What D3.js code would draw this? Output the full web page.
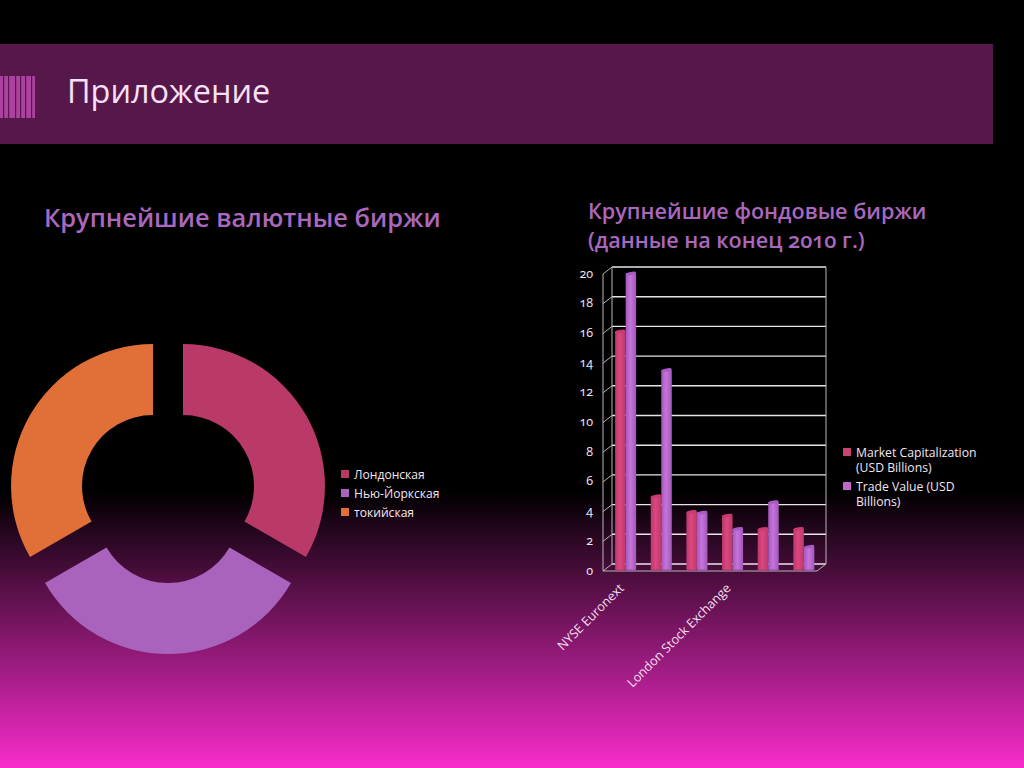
<!DOCTYPE html>
<html>
<head>
<meta charset="utf-8">
<script src="https://cdn.jsdelivr.net/npm/d3@7"></script>
<style>
  html, body { margin: 0; padding: 0; background: #000; overflow: hidden; }
  svg { display: block; }
  text { font-family: "Open Sans", sans-serif; font-variant-numeric: oldstyle-nums; }
</style>
</head>
<body>
<div id="chart"></div>
<script>
// donut data
const exchangeNames = ['Лондонская', 'Нью-Йоркская', 'токийская'];
const exchangeShares = [1, 1, 1];
const exchangeColors = ['#b93a68', '#a963bd', '#e06f38'];

// bar data
const stockLabels = ['NYSE Euronext', '', '', 'London Stock Exchange', '', ''];
const marketCap = [16.0, 4.9, 3.85, 3.6, 2.7, 2.7];
const tradeValue = [19.9, 13.4, 3.8, 2.7, 4.5, 1.5];
const seriesNames = [['Market Capitalization', '(USD Billions)'], ['Trade Value (USD', 'Billions)']];
const yTicks = [0, 2, 4, 6, 8, 10, 12, 14, 16, 18, 20];

const width = 1024;
const height = 768;

const svg = d3.select('#chart').append('svg').attr('width', width).attr('height', height);
const defs = svg.append('defs');

// page background
const bg = defs.append('linearGradient').attr('id', 'bg').attr('x1', 0).attr('y1', 0).attr('x2', 0).attr('y2', 1);
bg.append('stop').attr('offset', '0.64').attr('stop-color', '#000');
bg.append('stop').attr('offset', '1').attr('stop-color', '#f82ccb');
svg.append('rect').attr('width', width).attr('height', height).attr('fill', 'url(#bg)');

// header band
svg.append('rect').attr('x', 0).attr('y', 44).attr('width', 993).attr('height', 100).attr('fill', '#56174b');
svg.append('rect').attr('x', 0).attr('y', 76).attr('width', 35).attr('height', 42).attr('fill', '#ab429f');
svg.append('g').selectAll('rect').data([3, 8, 15, 20, 25, 31]).enter().append('rect')
  .attr('x', d => d)
  .attr('y', 76)
  .attr('width', 1.2)
  .attr('height', 42)
  .attr('fill', '#56174b');
svg.append('text').attr('x', 67).attr('y', 103).attr('font-size', 32.4).attr('fill', '#f8e0f6').text('Приложение');

// headings
const headingColor = '#a968bd';
svg.append('text').attr('x', 44).attr('y', 227).attr('font-size', 25.4).attr('font-weight', 600).attr('fill', headingColor)
  .text('Крупнейшие валютные биржи');
svg.append('text').attr('x', 588).attr('y', 219).attr('font-size', 21.6).attr('font-weight', 600).attr('fill', headingColor)
  .text('Крупнейшие фондовые биржи');
svg.append('text').attr('x', 588).attr('y', 248).attr('font-size', 21.6).attr('font-weight', 600).attr('fill', headingColor)
  .text('(данные на конец 2010 г.)');

// donut
const donutX = 168;
const donutY = 494.7;
const explode = 17.3;
const pie = d3.pie().sort(null)(exchangeShares);
const arc = d3.arc().innerRadius(71).outerRadius(142);
svg.append('g').attr('transform', `translate(${donutX},${donutY})`)
  .selectAll('path').data(pie).enter().append('path')
  .attr('d', arc)
  .attr('fill', (d, i) => exchangeColors[i])
  .attr('transform', d => {
    const mid = (d.startAngle + d.endAngle) / 2;
    return `translate(${Math.sin(mid) * explode},${-Math.cos(mid) * explode})`;
  });

const donutLegend = svg.append('g').selectAll('g').data(exchangeNames).enter().append('g')
  .attr('transform', (d, i) => `translate(341,${474 + i * 19})`);
donutLegend.append('rect').attr('y', -4).attr('width', 8).attr('height', 8).attr('fill', (d, i) => exchangeColors[i]);
donutLegend.append('text').attr('x', 13).attr('y', 5).attr('font-size', 12.1).attr('fill', '#f4e6f2').text(d => d);

// bars: y is read on the back wall, the front plane is shifted by depth
const depthX = 9;
const depthY = 7;
const backLeft = 612;
const backRight = 826;
const y = d3.scaleLinear().domain([0, 20]).range([564, 267]);
const x0 = d3.scaleBand().domain(d3.range(stockLabels.length)).range([608, 821.5])
  .paddingInner(0.41).paddingOuter(0.2);
const x1 = d3.scaleBand().domain([0, 1]).range([0, x0.bandwidth()]);

const plot = svg.append('g');
const wallColor = '#b9b4b8';
plot.selectAll('.grid').data(yTicks).enter().append('line').attr('class', 'grid')
  .attr('x1', backLeft).attr('x2', backRight).attr('y1', d => y(d)).attr('y2', d => y(d))
  .attr('stroke', '#e8e4e8').attr('stroke-width', 1.4);
plot.selectAll('.slant').data(yTicks).enter().append('line').attr('class', 'slant')
  .attr('x1', backLeft - depthX).attr('x2', backLeft).attr('y1', d => y(d) + depthY).attr('y2', d => y(d))
  .attr('stroke', wallColor);
[[backLeft, y(20), backLeft, y(0)], [backRight, y(20), backRight, y(0)],
 [backLeft - depthX, y(20) + depthY, backLeft - depthX, y(0) + depthY],
 [backLeft - depthX, y(0) + depthY, backRight - depthX, y(0) + depthY],
 [backRight - depthX, y(0) + depthY, backRight, y(0)]].forEach(l => {
  plot.append('line').attr('x1', l[0]).attr('y1', l[1]).attr('x2', l[2]).attr('y2', l[3]).attr('stroke', wallColor);
});

const seriesColors = [
  { fill: 'url(#barRed)', cap: '#c93a70', key: '#c8446f' },
  { fill: 'url(#barPurple)', cap: '#a85bc4', key: '#bb6acb' }
];
function barGradient(id, edge, mid) {
  const g = defs.append('linearGradient').attr('id', id);
  g.append('stop').attr('offset', '0').attr('stop-color', edge);
  g.append('stop').attr('offset', '0.45').attr('stop-color', mid);
  g.append('stop').attr('offset', '1').attr('stop-color', edge);
}
barGradient('barRed', '#b83a6c', '#de467f');
barGradient('barPurple', '#a257b8', '#c674dc');

const barBase = y(0) + 5;
[marketCap, tradeValue].forEach((series, s) => {
  const group = plot.append('g');
  const w = x1.bandwidth();
  const cx = i => x0(i) + x1(s);
  const topY = v => y(v) + 5;
  group.selectAll('.base').data(series).enter().append('ellipse')
    .attr('cx', (d, i) => cx(i) + w / 2).attr('cy', barBase).attr('rx', w / 2).attr('ry', 1.5)
    .attr('fill', seriesColors[s].cap);
  group.selectAll('.body').data(series).enter().append('rect')
    .attr('x', (d, i) => cx(i)).attr('width', w)
    .attr('y', d => topY(d)).attr('height', d => barBase - topY(d))
    .attr('fill', seriesColors[s].fill);
  group.selectAll('.cap').data(series).enter().append('ellipse')
    .attr('rx', w / 2).attr('ry', 1.6)
    .attr('transform', (d, i) => `translate(${cx(i) + w / 2},${topY(d)}) rotate(-10)`)
    .attr('fill', seriesColors[s].cap);
});

// axes
const yAxis = svg.append('g')
  .attr('transform', `translate(${backLeft - depthX - 2},${depthY - 1})`)
  .call(d3.axisLeft(y).tickValues(yTicks).tickSize(0).tickPadding(8));
yAxis.select('.domain').remove();
yAxis.selectAll('text').attr('font-size', 12.5).attr('fill', '#f6e8f4')
  .style('font-family', '"Open Sans", sans-serif');

const xAxis = svg.append('g')
  .attr('transform', `translate(0,${y(0) + depthY})`)
  .call(d3.axisBottom(x0).tickFormat(i => stockLabels[i]).tickSize(0));
xAxis.select('.domain').remove();
xAxis.selectAll('text')
  .attr('font-size', 12.7).attr('fill', '#f4dff0')
  .style('font-family', '"Open Sans", sans-serif')
  .style('text-anchor', 'end')
  .attr('dx', 0).attr('dy', 0).attr('x', 0).attr('y', 0)
  .attr('transform', 'translate(-1,18) rotate(-45)');

// bar legend
const barLegend = svg.append('g').selectAll('g').data(seriesNames).enter().append('g')
  .attr('transform', (d, i) => `translate(843,${452 + i * 34})`);
barLegend.append('rect').attr('y', -4).attr('width', 8).attr('height', 8).attr('fill', (d, i) => seriesColors[i].key);
barLegend.append('text').attr('x', 13).attr('y', 5).attr('font-size', 12.2).attr('fill', '#f4e6f2').text(d => d[0]);
barLegend.append('text').attr('x', 13).attr('y', 20).attr('font-size', 12.2).attr('fill', '#f4e6f2').text(d => d[1]);
</script>
</body>
</html>
